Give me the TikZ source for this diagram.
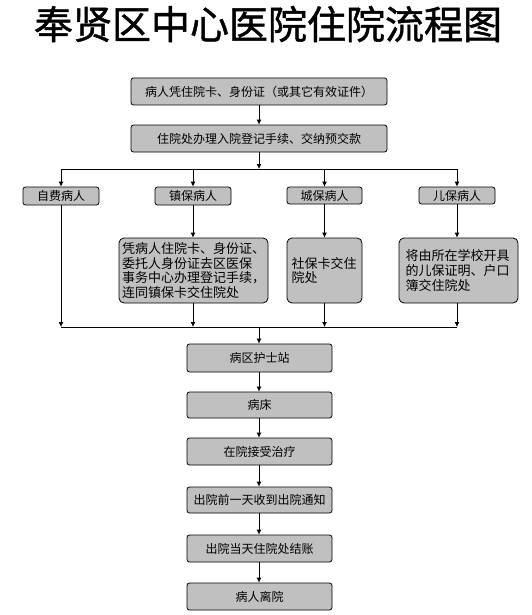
\documentclass[tikz,border=0pt]{standalone}
\usepackage{fontspec}
\setmainfont{Noto Sans CJK SC}
\newfontfamily\titlefont{Noto Sans CJK SC}[FakeBold=1.2]
\usetikzlibrary{arrows.meta}
\definecolor{boxgray}{HTML}{C0C0C0}
\tikzset{
  box/.style={draw=black, line width=0.8pt, fill=boxgray, rounded corners=2.5pt, inner sep=0pt, font=\fontsize{12}{14}\selectfont, align=center},
  detail/.style={draw=black, line width=0.8pt, fill=boxgray, rounded corners=5pt, inner sep=0pt, font=\fontsize{13}{14.8}\selectfont, align=left},
  conn/.style={line width=0.8pt, -{Latex[length=5pt,width=5pt]}},
  plain/.style={line width=0.8pt}
}
\begin{document}
\begin{tikzpicture}[x=1pt,y=-1pt]
\useasboundingbox (0,0) rectangle (532,615);
\node[font=\fontsize{39}{41}\titlefont, inner sep=0pt] (title) at (268,24) {奉贤区中心医院住院流程图};

\node[box, minimum width=256pt, minimum height=27pt] (b1) at (259,91.5) {病人凭住院卡、身份证（或其它有效证件）};
\node[box, minimum width=256pt, minimum height=27pt] (b2) at (259,138.5) {住院处办理入院登记手续、交纳预交款};

\coordinate (t0) at (259,169);
\coordinate (t1) at (61,169);
\coordinate (t2) at (193,169);
\coordinate (t3) at (324.5,169);
\coordinate (t4) at (457,169);

\node[box, minimum width=76pt, minimum height=18pt] (c1) at (61,196) {自费病人};
\node[box, minimum width=76pt, minimum height=18pt] (c2) at (193,196) {镇保病人};
\node[box, minimum width=75pt, minimum height=17pt] (c3) at (324.5,195.5) {城保病人};
\node[box, minimum width=76pt, minimum height=17pt] (c4) at (457,195.5) {儿保病人};

\node[detail, minimum width=149pt, minimum height=65pt, text width=143pt] (d2) at (193.5,270.5) {凭病人住院卡、身份证、\\委托人身份证去区医保\\事务中心办理登记手续，\\连同镇保卡交住院处};
\node[detail, minimum width=75pt, minimum height=65pt, text width=66pt] (d3) at (324.5,270.5) {社保卡交住\\院处};
\node[detail, minimum width=119pt, minimum height=65pt, text width=106pt] (d4) at (458.5,270.5) {将由所在学校开具\\的儿保证明、户口\\簿交住院处};

\coordinate (u0) at (259,327);
\coordinate (u1) at (61,327);
\coordinate (u2) at (193,327);
\coordinate (u3) at (324.5,327);
\coordinate (u4) at (457,327);

\node[box, minimum width=145pt, minimum height=28pt] (e1) at (259.5,358) {病区护士站};
\node[box, minimum width=145pt, minimum height=26pt] (e2) at (259.5,405) {病床};
\node[box, minimum width=145pt, minimum height=27pt] (e3) at (259.5,451.5) {在院接受治疗};
\node[box, minimum width=145pt, minimum height=26pt] (e4) at (259.5,500) {出院前一天收到出院通知};
\node[box, minimum width=145pt, minimum height=27pt] (e5) at (259.5,548.5) {出院当天住院处结账};
\node[box, minimum width=145pt, minimum height=27pt] (e6) at (259.5,596.5) {病人离院};

\draw[conn] (b1) -- (b2);
\draw[conn] (b2.south -| t0) -- (t0);
\draw[plain] (t1) -- (t4);
\draw[conn] (t1) -- (c1);
\draw[conn] (t2) -- (c2);
\draw[conn] (t3) -- (c3);
\draw[conn] (t4) -- (c4);

\draw[conn] (c1) -- (u1);
\draw[conn] (c2) -- (d2.north -| c2);
\draw[conn] (c3) -- (d3);
\draw[conn] (c4) -- (d4.north -| c4);
\draw[conn] (d2.south -| u2) -- (u2);
\draw[conn] (d3) -- (u3);
\draw[conn] (d4.south -| u4) -- (u4);
\draw[plain] (u1) -- (u4);

\draw[conn] (u0) -- (e1.north -| u0);
\draw[conn] (e1.south -| u0) -- (e2.north -| u0);
\draw[conn] (e2.south -| u0) -- (e3.north -| u0);
\draw[conn] (e3.south -| u0) -- (e4.north -| u0);
\draw[conn] (e4.south -| u0) -- (e5.north -| u0);
\draw[conn] (e5.south -| u0) -- (e6.north -| u0);
\end{tikzpicture}
\end{document}
